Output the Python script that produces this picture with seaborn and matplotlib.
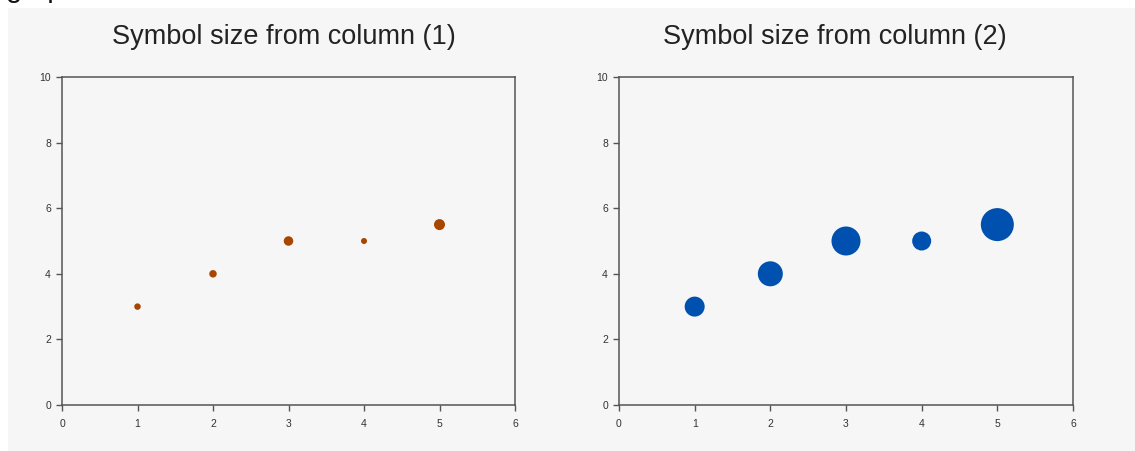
import numpy as np
import pandas as pd
import seaborn as sns
from matplotlib import pyplot as plt
from matplotlib.patches import Rectangle

# data
x_vals = [1, 2, 3, 4, 5]
y_vals = [3, 4, 5, 5, 5.5]
size_col1 = [0.65, 0.75, 0.95, 0.6, 1.1]   # symbol size column (1)
size_col2 = [2.0, 2.5, 2.9, 1.9, 3.3]      # symbol size column (2)
titles = ["Symbol size from column (1)", "Symbol size from column (2)"]
colors = ["#A84500", "#0050B0"]

sns.set_style("white")
plt.rcParams['font.family'] = ['Liberation Sans', 'DejaVu Sans']

fig = plt.figure(figsize=(11.35, 4.51), dpi=100)
fig.patch.set_facecolor("white")

# light grey panel behind both graphs
panel = Rectangle((8 / 1135, 0), 1 - 8 / 1135, 1 - 8 / 451,
                  transform=fig.transFigure, facecolor="#F6F6F6",
                  edgecolor="none", zorder=-10)
fig.add_artist(panel)
fig.text(6 / 1135, 1 + 3 / 451, "graph.", fontsize=21, color="#111111",
         ha="left", va="baseline")

positions = [[62 / 1135, 46 / 451, 453 / 1135, 328 / 451],
             [619 / 1135, 46 / 451, 454 / 1135, 328 / 451]]
title_x = [0.490, 0.475]

for pos, sizes, title, color, tx in zip(positions, [size_col1, size_col2],
                                        titles, colors, title_x):
    ax = fig.add_axes(pos)
    df = pd.DataFrame({"x": x_vals, "y": y_vals, "size": sizes})
    # size column value -> marker diameter (10 px per unit at 100 dpi)
    size_map = {v: (v * 7.2) ** 2 for v in sizes}
    sns.scatterplot(data=df, x="x", y="y", size="size", sizes=size_map,
                    color=color, linewidth=0, legend=False, ax=ax, zorder=3)

    ax.set_xlim(0, 6)
    ax.set_ylim(0, 10)
    ax.set_xticks(range(0, 7))
    ax.set_yticks(range(0, 11, 2))
    ax.set_xlabel("")
    ax.set_ylabel("")
    ax.set_facecolor("#F6F6F6")
    for sp in ax.spines.values():
        sp.set_color("#555555")
        sp.set_linewidth(1.1)
    ax.tick_params(axis="both", which="major", direction="out", length=4,
                   width=1, color="#555555", labelsize=7.5, labelcolor="#333333",
                   left=True, bottom=True, pad=4)
    ax.tick_params(axis="x", pad=6)
    ax.set_title(title, fontsize=19.5, color="#222222", x=tx,
                 y=1 + 33 / 328, va="baseline", pad=0)

fig.savefig("out.png", dpi=100)
